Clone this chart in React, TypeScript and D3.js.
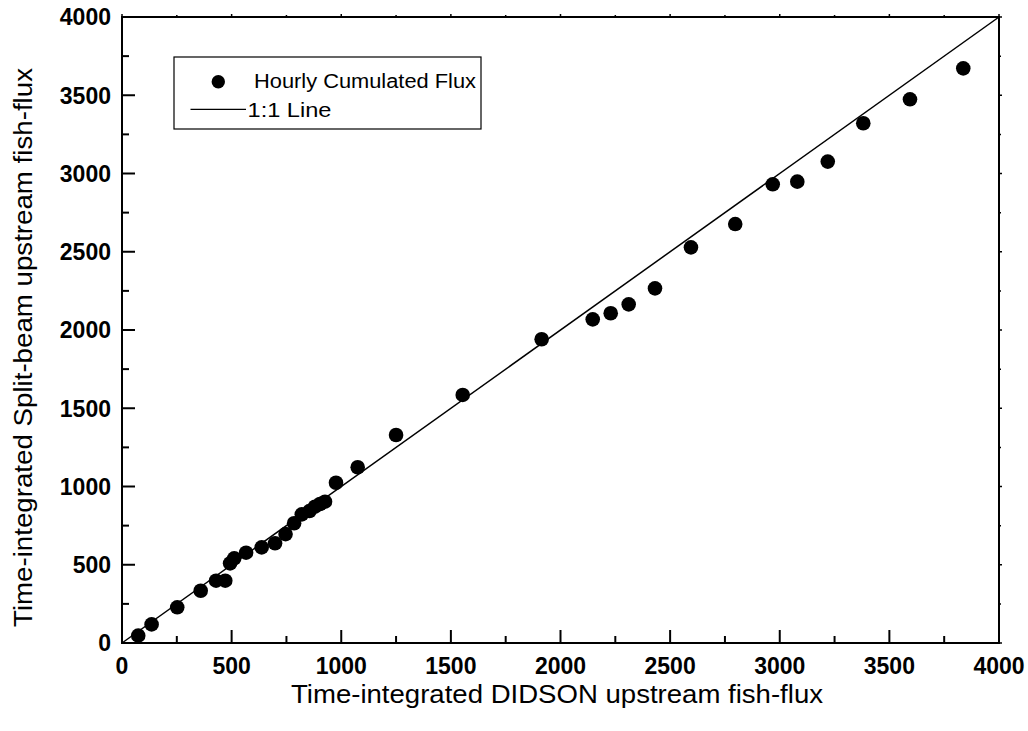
import React from "react";
import * as d3 from "d3";

const didsonFlux = [74, 135, 252, 359, 429, 471, 493, 512, 566, 637, 698, 746, 785, 820, 855, 880, 903, 926, 976, 1075, 1250, 1554, 1914, 2147, 2229, 2311, 2431, 2595, 2797, 2968, 3080, 3219, 3381, 3594, 3837];
const splitBeamFlux = [47, 119, 228, 334, 398, 398, 509, 541, 577, 611, 637, 696, 765, 822, 843, 871, 888, 903, 1024, 1123, 1329, 1585, 1941, 2068, 2107, 2164, 2266, 2528, 2677, 2931, 2948, 3076, 3321, 3474, 3672];
const majorTicks = [0, 500, 1000, 1500, 2000, 2500, 3000, 3500, 4000];
const minorTicks = [250, 750, 1250, 1750, 2250, 2750, 3250, 3750];
const xTitle = "Time-integrated DIDSON upstream fish-flux";
const yTitle = "Time-integrated Split-beam upstream fish-flux";
const legendLabels = ["Hourly Cumulated Flux", "1:1 Line"];

const W = 1028;
const H = 731;
const L = 122, R = 999, T = 17, B = 643;

export default function App() {
  const x = d3.scaleLinear().domain([0, 4000]).range([L, R]);
  const y = d3.scaleLinear().domain([0, 4000]).range([B, T]);
  const font = "'Liberation Sans', Arial, Helvetica, sans-serif";
  const pts = didsonFlux.map((d, i) => [d, splitBeamFlux[i]] as [number, number]);
  const line = d3.line<[number, number]>().x((d) => x(d[0])).y((d) => y(d[1]));
  const labelW = (t: number) => String(t).length * 12.8;

  return (
    <svg width={W} height={H} style={{ position: "absolute", left: 0, top: 0, background: "#fff" }} fontFamily={font}>
      <rect x={0} y={0} width={W} height={H} fill="#fff" />
      <path d={line([[0, 0], [4000, 4000]]) || ""} stroke="#000" strokeWidth={1.5} fill="none" />
      {pts.map((p, i) => (
        <circle key={i} cx={x(p[0])} cy={y(p[1])} r={7.3} fill="#000" />
      ))}
      <rect x={L} y={T} width={R - L} height={B - T} fill="none" stroke="#000" strokeWidth={2} />
      {majorTicks.map((t) => (
        <g key={"bx" + t}>
          <line x1={x(t)} x2={x(t)} y1={B} y2={B - 13} stroke="#000" strokeWidth={2} />
          <line x1={x(t)} x2={x(t)} y1={T} y2={T - 3} stroke="#000" strokeWidth={1.5} />
          <text x={x(t)} y={673.5} textAnchor="middle" fontWeight="bold" fontSize={23}>{t}</text>
        </g>
      ))}
      {minorTicks.map((t) => (
        <g key={"mx" + t}>
          <line x1={x(t)} x2={x(t)} y1={B} y2={B - 7} stroke="#000" strokeWidth={2} />
          <line x1={x(t)} x2={x(t)} y1={T} y2={T - 2} stroke="#000" strokeWidth={1.5} />
        </g>
      ))}
      {majorTicks.map((t) => (
        <g key={"ly" + t}>
          <line x1={L} x2={L + 13} y1={y(t)} y2={y(t)} stroke="#000" strokeWidth={2} />
          <line x1={R} x2={R + 3} y1={y(t)} y2={y(t)} stroke="#000" strokeWidth={1.5} />
          <text x={111} y={y(t) + 8.3} textAnchor="end" fontWeight="bold" fontSize={23}>{t}</text>
        </g>
      ))}
      {minorTicks.map((t) => (
        <g key={"my" + t}>
          <line x1={L} x2={L + 7} y1={y(t)} y2={y(t)} stroke="#000" strokeWidth={2} />
          <line x1={R} x2={R + 2} y1={y(t)} y2={y(t)} stroke="#000" strokeWidth={1.5} />
        </g>
      ))}
      <text x={557} y={703} textAnchor="middle" fontSize={25} textLength={532} lengthAdjust="spacingAndGlyphs">{xTitle}</text>
      <text transform={`translate(32,347.5) rotate(-90)`} textAnchor="middle" fontSize={26} textLength={559} lengthAdjust="spacingAndGlyphs">{yTitle}</text>
      <rect x={174} y={57} width={307} height={72} fill="#fff" stroke="#000" strokeWidth={1.2} />
      <circle cx={218.3} cy={81.7} r={6.7} fill="#000" />
      <text x={254} y={87.5} fontSize={19.5} textLength={222} lengthAdjust="spacingAndGlyphs">{legendLabels[0]}</text>
      <line x1={190.5} x2={246} y1={109.3} y2={109.3} stroke="#000" strokeWidth={1.2} />
      <text x={247.5} y={116.5} fontSize={19.5} textLength={84} lengthAdjust="spacingAndGlyphs">{legendLabels[1]}</text>
    </svg>
  );
}
